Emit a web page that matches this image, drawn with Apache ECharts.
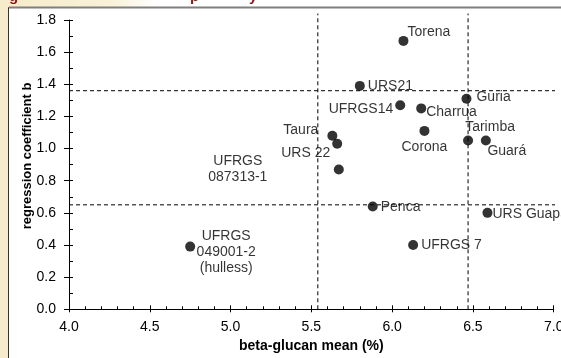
<!DOCTYPE html>
<html>
<head>
<meta charset="utf-8">
<script src="https://cdn.jsdelivr.net/npm/echarts@6/dist/echarts.min.js"></script>
<style>
    html, body { margin: 0; padding: 0; background: #fff; overflow: hidden; }
    #chart { width: 561px; height: 358px; }
</style>
</head>
<body>
<div id="chart"></div>
<script>
var genotypes = ['Torena', 'URS21', 'UFRGS14', 'Charrua', 'Corona', 'Taura', 'URS 22', 'UFRGS\n087313-1',
    'Guria', 'Tarimba', 'Guará', 'URS Guapa', 'Penca', 'UFRGS 7', 'UFRGS\n049001-2\n(hulless)'];
var betaGlucan = [6.07, 5.80, 6.05, 6.18, 6.20, 5.63, 5.66, 5.67, 6.46, 6.47, 6.58, 6.59, 5.88, 6.13, 4.75];
var coefB = [1.67, 1.39, 1.27, 1.25, 1.11, 1.08, 1.03, 0.87, 1.31, 1.05, 1.05, 0.60, 0.64, 0.40, 0.39];
var xTicks = [4.0, 4.5, 5.0, 5.5, 6.0, 6.5, 7.0];
var yTicks = [0.0, 0.2, 0.4, 0.6, 0.8, 1.0, 1.2, 1.4, 1.6, 1.8];
var refX = [5.54, 6.47]; // linhas verticais tracejadas
var refY = [0.65, 1.36]; // linhas horizontais tracejadas

// onde fica o rotulo de cada ponto: [dx, dy, align]
var labelPos = [
    [4, -9, 'left'], [8, 0, 'left'], [-7, 4, 'right'], [5, 4, 'left'], [0, 16, 'center'],
    [-14, -6, 'right'], [-7, 9, 'right'], [-101, 0, 'center'], [10, -2, 'left'], [22, -13, 'center'],
    [21, 11, 'center'], [5, 1, 'left'], [8, 1, 'left'], [8, 0, 'left'], [36, 6, 'center']
];

var font = 'Liberation Sans, Arial, sans-serif';
var chart = echarts.init(document.getElementById('chart'));

var points = genotypes.map(function (name, i) {
    return {
        value: [betaGlucan[i], coefB[i]],
        name: name,
        label: {
            show: true,
            position: 'inside',
            offset: [labelPos[i][0], labelPos[i][1]],
            align: labelPos[i][2],
            verticalAlign: 'middle',
            formatter: name,
            color: '#000',
            fontFamily: font,
            fontSize: 14,
            lineHeight: 16
        }
    };
});

var refSeries = [];
refX.forEach(function (x) {
    refSeries.push({
        type: 'line', data: [[x, 0], [x, 1.84]], symbol: 'none', clip: false, silent: true,
        lineStyle: { color: '#000', width: 1, type: [4, 3] }, z: 1
    });
});
refY.forEach(function (y) {
    refSeries.push({
        type: 'line', data: [[4.0, y], [7.02, y]], symbol: 'none', clip: false, silent: true,
        lineStyle: { color: '#000', width: 1, type: [4, 3] }, z: 1
    });
});

var tickFmt = function (v) { return v.toFixed(1); };

chart.setOption({
    animation: false,
    textStyle: { fontFamily: font },
    graphic: [
        {   // fundo creme a esquerda
            type: 'rect', z: -10, silent: true,
            shape: { x: 0, y: 0, width: 561, height: 358 },
            style: {
                fill: new echarts.graphic.LinearGradient(0, 0, 1, 0, [
                    { offset: 0, color: '#f6eccb' },
                    { offset: 0.2, color: '#f9f1d8' },
                    { offset: 0.28, color: '#ffffff' },
                    { offset: 1, color: '#ffffff' }
                ])
            }
        },
        {
            type: 'rect', z: -9, silent: true,
            shape: { x: 8.5, y: 7.5, width: 600, height: 400 },
            style: { fill: '#fff', stroke: '#333', lineWidth: 1 }
        },
        {
            type: 'line', z: -8, silent: true,
            shape: { x1: 9, y1: 7.5, x2: 561, y2: 7.5 },
            style: { stroke: '#7f7f7f', lineWidth: 2 }
        },
        // restos do titulo cortado
        { type: 'text', left: 9, top: -11, silent: true, style: { text: 'g', fill: '#8b1a1a', font: 'bold 15px ' + font } },
        { type: 'text', left: 190, top: -11, silent: true, style: { text: 'p', fill: '#8b1a1a', font: 'bold 15px ' + font } },
        { type: 'text', left: 249, top: -11, silent: true, style: { text: 'y', fill: '#8b1a1a', font: 'bold 15px ' + font } },
        {   // titulo do eixo y
            type: 'text', x: 27, y: 156, rotation: Math.PI / 2, silent: true,
            style: {
                text: 'regression coefficient b', fill: '#000',
                font: 'bold 13px ' + font, textAlign: 'center', textVerticalAlign: 'middle'
            }
        }
    ],
    grid: {
        left: 69,
        right: 7.3,
        top: 20,
        bottom: 48.7,
        outerBoundsMode: 'none'
    },
    xAxis: [
        {
            type: 'value', min: 4.0, max: 7.0, interval: 0.5,
            name: 'beta-glucan mean (%)',
            nameLocation: 'middle',
            nameGap: 25,
            nameTextStyle: { color: '#000', fontWeight: 'bold', fontSize: 14, fontFamily: font },
            axisLine: { onZero: false, lineStyle: { color: '#000', width: 1 } },
            axisTick: { inside: true, length: 4, lineStyle: { color: '#000' } },
            minorTick: { show: true, splitNumber: 5, length: 3, lineStyle: { color: '#000' } },
            axisLabel: { color: '#000', fontSize: 14, fontFamily: font, margin: 11, formatter: tickFmt },
            splitLine: { show: false }
        },
        {   // so para os ticks maiores de fora
            type: 'value', min: 4.0, max: 7.0, interval: 0.5, position: 'bottom',
            axisLine: { show: false },
            axisTick: { inside: false, length: 3, lineStyle: { color: '#000' } },
            axisLabel: { show: false },
            splitLine: { show: false }
        }
    ],
    yAxis: [
        {
            type: 'value', min: 0, max: 1.8, interval: 0.2,
            axisLine: { show: true, onZero: false, lineStyle: { color: '#000', width: 1 } },
            axisTick: { inside: true, length: 4, lineStyle: { color: '#000' } },
            minorTick: { show: true, splitNumber: 2, length: 4, lineStyle: { color: '#000' } },
            axisLabel: { color: '#000', fontSize: 14, fontFamily: font, margin: 13, formatter: tickFmt },
            splitLine: { show: false }
        },
        {
            type: 'value', min: 0, max: 1.8, interval: 0.2, position: 'left',
            axisLine: { show: false },
            axisTick: { inside: false, length: 5, lineStyle: { color: '#000' } },
            axisLabel: { show: false },
            splitLine: { show: false }
        }
    ],
    series: refSeries.concat([{
        type: 'scatter',
        symbol: 'circle',
        symbolSize: 10,
        itemStyle: { color: '#000' },
        data: points,
        z: 5
    }])
});
</script>
</body>
</html>
